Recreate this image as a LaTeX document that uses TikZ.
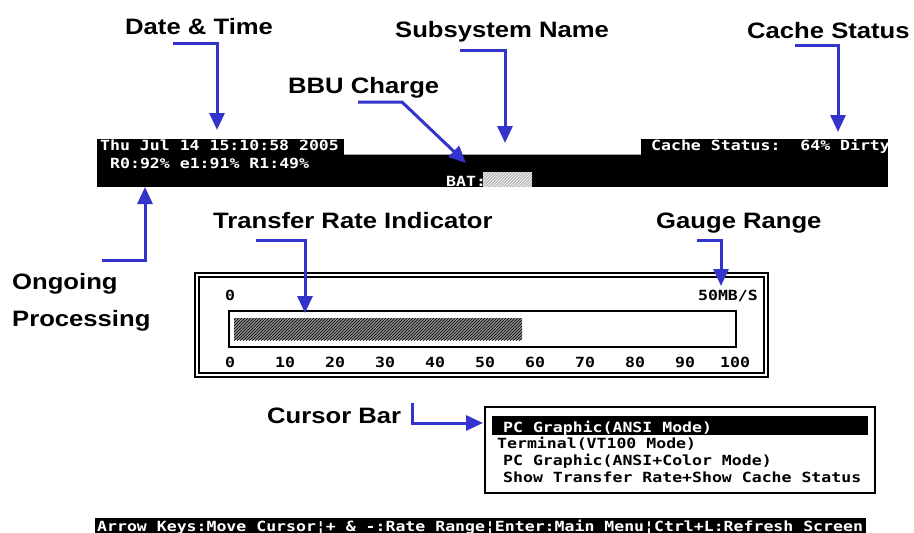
\documentclass[tikz,border=0pt]{standalone}
\usepackage{fontspec}
\usepackage{tikz}
\usetikzlibrary{arrows.meta,patterns}
\newfontfamily\labelfont{Liberation Sans}[FakeStretch=1.15]
\newfontfamily\termfont{DejaVu Sans Mono}[FakeStretch=1.18]
\definecolor{ptrblue}{RGB}{52,52,204}

\begin{document}
\begin{tikzpicture}[x=1pt,y=-1pt,
	callout/.style={font=\labelfont\bfseries\fontsize{22.3}{26}\selectfont, inner sep=0pt, anchor=base west},
	pointer/.style={draw=ptrblue, line width=3pt, -{Triangle[length=17pt,width=15pt]}},
	term/.style={font=\termfont\bfseries\fontsize{14}{16}\selectfont\frenchspacing, inner sep=0pt, anchor=base west},
	termw/.style={term, text=white}]
			\useasboundingbox[fill=white] (0,0) rectangle (914,533);
			\tikzset{frame/.style={line width=1.2pt}, hatch/.style={pattern=north east lines, pattern color=#1}}
%			status line
			\fill (97,154) rectangle (888,187);
			\fill (97,139) rectangle (344,154);
			\fill (641,139) rectangle (888,154);
			\draw[gray!70, line width=1pt] (344,154) -- (641,154);
			\node[termw] (clock) at (100,150) {Thu Jul 14 15:10:58 2005};
			\node[termw] (arrays) at (110,168) {R0:92\% e1:91\% R1:49\%};
			\node[termw] (bat) at (446,186) {BAT:};
			\fill[gray!55] (483,172) rectangle (532,187);
			\fill[hatch=white] (483,172) rectangle (532,187);
			\node[termw] (cache) at (651,150) {Cache Status:\ \ 64\% Dirty};
%			gauge
			\draw[frame] (195,273) rectangle (768,377);
			\draw[frame] (199,277) rectangle (764,373);
			\node[term] (gmin) at (225,300) {0};
			\node[term, anchor=base east] (gmax) at (758,300) {50MB/S};
			\draw[line width=2pt] (229,311) rectangle (736,347);
			\fill[black!45] (234,318) rectangle (522,340);
			\fill[hatch=black] (234,318) rectangle (522,340);
			\foreach \v in {0,10,...,90}
				\node[term] (tick\v) at (225+5*\v,367) {\v};
			\node[term] (tick100) at (720,367) {100};
%			menu
			\draw[frame] (485,407) rectangle (875,493);
			\fill (492,416) rectangle (868,435);
			\node[termw] (opt1) at (503,432) {PC Graphic(ANSI Mode)};
			\node[term] (opt2) at (497,448) {Terminal(VT100 Mode)};
			\node[term] (opt3) at (503,465) {PC Graphic(ANSI+Color Mode)};
			\node[term] (opt4) at (503,482) {Show Transfer Rate+Show Cache Status};
%			key line
			\fill (95,518) rectangle (866,533);
			\node[termw] (keys) at (97,531) {Arrow Keys:Move Cursor¦+ \& -:Rate Range¦Enter:Main Menu¦Ctrl+L:Refresh Screen};
%			callouts
			\node[callout] (datetime) at (125,34) {Date \& Time};
			\node[callout] (subsys) at (395,37) {Subsystem Name};
			\node[callout] (cachelbl) at (747,38) {Cache Status};
			\node[callout] (bbu) at (288,93) {BBU Charge};
			\node[callout] (xferlbl) at (213,228) {Transfer Rate Indicator};
			\node[callout] (rangelbl) at (656,228) {Gauge Range};
			\node[callout] (ongoing) at (12,289) {Ongoing};
			\node[callout] (processing) at (12,326) {Processing};
			\node[callout] (cursorlbl) at (267,423) {Cursor Bar};
			\coordinate (dt-a) at (173,43);   \coordinate (dt-b) at (217,130);
			\coordinate (ss-a) at (460,50);   \coordinate (ss-b) at (505,143);
			\coordinate (cs-a) at (795,45);   \coordinate (cs-b) at (838,132);
			\coordinate (bb-a) at (358,102);  \coordinate (bb-k) at (402,102);  \coordinate (bb-b) at (466,163);
			\coordinate (op-a) at (102,260);  \coordinate (op-b) at (145,187);
			\coordinate (tr-a) at (256,240);  \coordinate (tr-b) at (305,313);
			\coordinate (gr-a) at (697,240);  \coordinate (gr-b) at (721,286);
			\coordinate (cb-a) at (412,403);  \coordinate (cb-b) at (483,423);
			\draw[pointer] (dt-a) -| (dt-b);
			\draw[pointer] (ss-a) -| (ss-b);
			\draw[pointer] (cs-a) -| (cs-b);
			\draw[pointer] (bb-a) -- (bb-k) -- (bb-b);
			\draw[pointer] (op-a) -| (op-b);
			\draw[pointer] (tr-a) -| (tr-b);
			\draw[pointer] (gr-a) -| (gr-b);
			\draw[pointer] (cb-a) |- (cb-b);
		\end{tikzpicture}
\end{document}
